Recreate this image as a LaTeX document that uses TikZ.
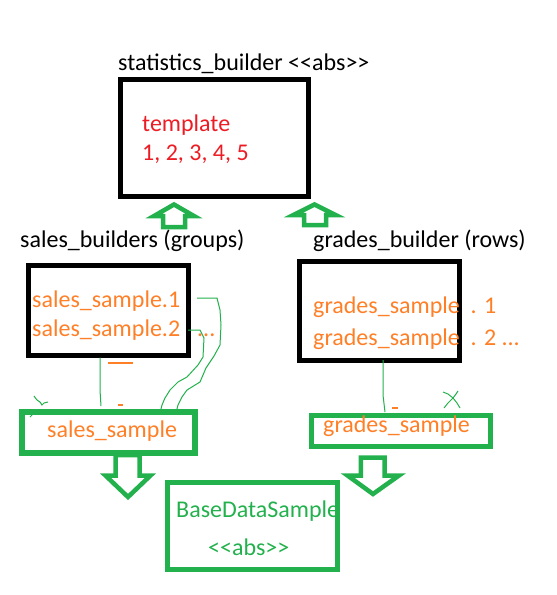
\documentclass[tikz,border=0pt]{standalone}
\usepackage{fontspec}
\setmainfont{Carlito}
\definecolor{pred}{HTML}{ED1C24}
\definecolor{porange}{HTML}{FF7F27}
\definecolor{pgreen}{HTML}{22B14C}
\begin{document}
\begin{tikzpicture}[x=1pt,y=-1pt,
  txt/.style={anchor=base west, inner sep=0pt, font=\fontsize{24}{28}\selectfont},
  blackbox/.style={draw=black, line width=5pt, minimum width=#1, inner sep=0pt},
  greenbox/.style={draw=pgreen, line width=5.5pt, minimum width=#1, inner sep=0pt},
  blockarrow/.style={draw=pgreen, line width=4.5pt, line join=miter},
  scribble/.style={draw=pgreen, line width=1pt},
  otick/.style={draw=porange, line width=2pt}]
\useasboundingbox (0,0) rectangle (557,595);

% boxes
\node[blackbox=188pt, minimum height=117pt] (top) at (214,137.5) {};
\node[blackbox=160pt, minimum height=90pt] (sales) at (108,310) {};
\node[blackbox=160pt, minimum height=99pt] (grades) at (379,310.5) {};
\node[greenbox=173pt, minimum height=41pt] (ss) at (108.5,432.5) {};
\node[greenbox=179pt, minimum height=31pt] (gs) at (401,431) {};
\node[greenbox=170pt, minimum height=87pt] (base) at (252.5,526) {};

% texts
\node[txt] (title) at (118,70) {statistics\_builder <{}<abs>{}>};
\node[txt, text=pred] (tmpl) at (142,131) {template};
\node[txt, text=pred] (nums) at (142,160) {1, 2, 3, 4, 5};
\node[txt] (slabel) at (20,247) {sales\_builders (groups)};
\node[txt] (glabel) at (313,247) {grades\_builder (rows)};
\node[txt, text=porange] (s1) at (32,307) {sales\_sample.1};
\node[txt, text=porange] (s2) at (32,336) {sales\_sample.2\hspace{17pt}...};
\node[txt, text=porange] (g1) at (313,313) {grades\_sample\ \ . 1};
\node[txt, text=porange] (g2) at (313,345) {grades\_sample\ \ . 2 ...};
\node[txt, text=porange] (sst) at (47,437) {sales\_sample};
\node[txt, text=porange] (gst) at (323,432) {grades\_sample};
\node[txt, text=pgreen] (bds) at (176,517) {BaseDataSample};
\node[txt, text=pgreen] (abs) at (208,555) {<{}<abs>{}>};

% up block arrows
\draw[blockarrow] (163,227) -- (163,216) -- (154,216) -- (174,204.5) -- (194,216) -- (185,216) -- (185,227) -- cycle;
\draw[blockarrow] (304,225) -- (304,215) -- (293.5,215) -- (314.5,204.5) -- (335.5,215) -- (326,215) -- (326,225) -- cycle;

% down block arrows
\draw[blockarrow] (115.5,455) -- (115.5,475.5) -- (105.5,475.5) -- (128,497) -- (150.5,475.5) -- (139.5,475.5) -- (139.5,455) -- cycle;
\draw[blockarrow] (360.8,457.5) -- (360.8,475.5) -- (347.5,475.5) -- (373,494) -- (399,475.5) -- (384.7,475.5) -- (384.7,457.5) -- cycle;

% thin green scribbles
\draw[scribble] (100,357.5) -- (100,390) -- (101,406);
\draw[scribble] (383,360) -- (383,395) -- (385,412);
\draw[scribble] (197,298) -- (217,298) -- (220,310) -- (221,325) -- (220,345) -- (214,356) -- (206,368) -- (200,382) -- (187,390) -- (182,397) -- (178,405) -- (176,413);
\draw[scribble] (188,330) -- (200,330) -- (204,338) -- (203,357) -- (198,365) -- (187,377) -- (178,382) -- (170,390) -- (165,398) -- (162,405) -- (160,413);
\draw[scribble] (34,396) -- (37,400) -- (40,402) -- (42,405) -- (44,403) -- (48,402);
\draw[scribble] (30,417) -- (33,414) -- (36,414);
\draw[scribble] (443,392) -- (448,394) -- (453,398) -- (457,403) -- (460,408);
\draw[scribble] (458,391) -- (456,394) -- (453,398) -- (448,403) -- (444,408);

% orange marks
\draw[otick] (108,363) -- (133,363);
\draw[draw=porange, line width=1.2pt] (118,405) -- (123,405);
\draw[draw=porange, line width=1.5pt] (392,408) -- (398,408);
\end{tikzpicture}
\end{document}
